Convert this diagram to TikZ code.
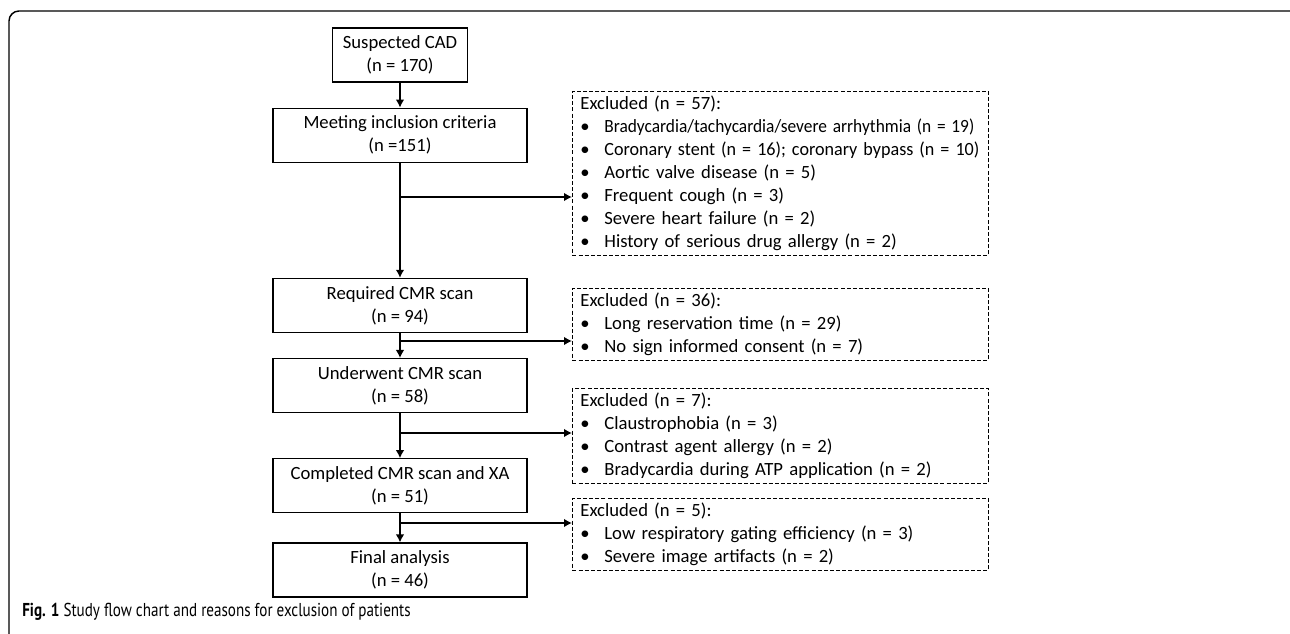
\documentclass[tikz,border=0pt]{standalone}
\usepackage{graphicx}
\usepackage{fontspec}
\setmainfont{Carlito}
\newfontfamily\capfont[FakeStretch=0.81]{PT Sans}
\usetikzlibrary{shapes,arrows.meta}
\usetikzlibrary{positioning}
\tikzstyle{block} = [rectangle, draw, line width=0.9pt, align=center,
    inner sep=0pt, minimum height=40.5pt, minimum width=190.5pt]
\tikzstyle{excl} = [rectangle, draw, dash pattern=on 3pt off 1.6pt,
    line width=0.6pt, anchor=north west, align=left,
    text width=300pt, inner xsep=6pt, inner ysep=3.4pt]
\tikzstyle{line} = [draw, -{Latex[length=6pt,width=6.5pt]}, line width=1.3pt]
\newcommand{\itm}[1]{\mbox{\makebox[18pt][l]{\textbullet}#1}}

\begin{document}
\begin{tikzpicture}[x=0.75pt, y=-0.75pt, font=\fontsize{14}{17.25}\selectfont]
    \useasboundingbox (0,0) rectangle (1290,634);
    \clip (0,0) rectangle (1290,634);
    % Frame
    \draw[line width=1.1pt, rounded corners=7.5pt] (9,660) -- (9,11) -- (1300,11) -- (1300,660);

    % Place nodes
    \node [block, minimum width=101.25pt] (cad) at (400,55) {Suspected CAD\\(n = 170)};
    \node [block, below=18.75pt of cad] (incl) {Meeting inclusion criteria\\(n =151)};
    \node [block, below=86.25pt of incl] (req) {Required CMR scan\\(n = 94)};
    \node [block, below=18.75pt of req] (under) {Underwent CMR scan\\(n = 58)};
    \node [block, below=33.75pt of under] (compl) {Completed CMR scan and XA\\(n = 51)};
    \node [block, below=21.75pt of compl] (final) {Final analysis\\(n = 46)};

    \node [excl] (ex1) at (572,91) {Excluded (n = 57):\\
        \itm{\scalebox{0.93}[1]{Bradycardia/tachycardia/severe arrhythmia (n = 19)}}\\
        \itm{\scalebox{0.97}[1]{Coronary stent (n = 16); coronary bypass (n = 10)}}\\
        \itm{Aortic valve disease (n = 5)}\\
        \itm{Frequent cough (n = 3)}\\
        \itm{Severe heart failure (n = 2)}\\
        \itm{History of serious drug allergy (n = 2)}};
    \node [excl] (ex2) at (572,288) {Excluded (n = 36):\\
        \itm{Long reservation time (n = 29)}\\
        \itm{No sign informed consent (n = 7)}};
    \node [excl] (ex3) at (572,388) {Excluded (n = 7):\\
        \itm{Claustrophobia (n = 3)}\\
        \itm{Contrast agent allergy (n = 2)}\\
        \itm{Bradycardia during ATP application (n = 2)}};
    \node [excl] (ex4) at (572,498) {Excluded (n = 5):\\
        \itm{Low respiratory gating efficiency (n = 3)}\\
        \itm{Severe image artifacts (n = 2)}};

    \coordinate (br1) at (400,197);
    \coordinate (br2) at (400,341);
    \coordinate (br3) at (400,433);
    \coordinate (br4) at (400,523);

    \node [anchor=base west, inner sep=0pt, font=\capfont\fontsize{14}{16}\selectfont] (cap) at (22,617)
        {\textbf{Fig. 1} Study flow chart and reasons for exclusion of patients};

    \path [line] (cad) -- (incl);
    \path [line] (incl) -- (req);
    \path [line] (req) -- (under);
    \path [line] (under) -- (compl);
    \path [line] (compl) -- (final);
    \path [line] (br1) -- (br1 -| ex1.west);
    \path [line] (br2) -- (br2 -| ex2.west);
    \path [line] (br3) -- (br3 -| ex3.west);
    \path [line] (br4) -- (br4 -| ex4.west);
\end{tikzpicture}
\end{document}
